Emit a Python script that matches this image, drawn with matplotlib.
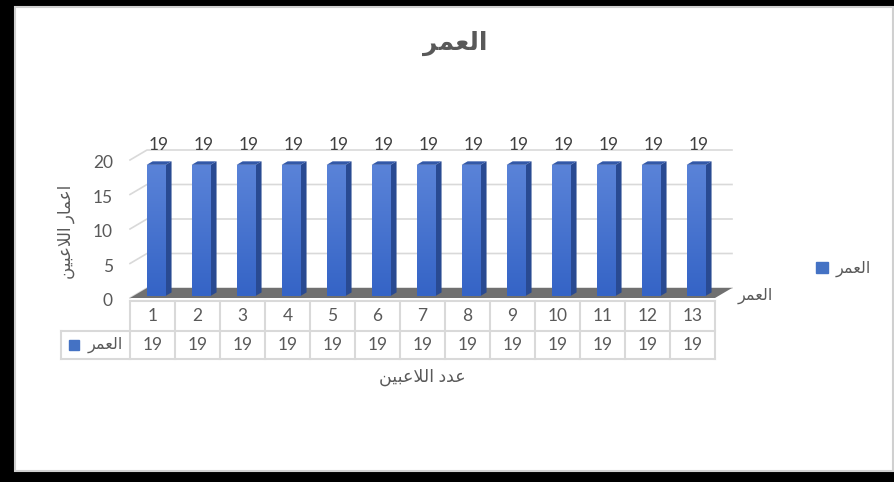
import numpy as np
import matplotlib
matplotlib.use('Agg')
import matplotlib.pyplot as plt
from matplotlib.patches import Rectangle, Polygon, Patch
from matplotlib.colors import LinearSegmentedColormap

plt.rcParams['font.family'] = ['Lato', 'DejaVu Sans']

# données du graphique
joueurs = [1, 2, 3, 4, 5, 6, 7, 8, 9, 10, 11, 12, 13]
ages = [19, 19, 19, 19, 19, 19, 19, 19, 19, 19, 19, 19, 19]
graduations = [0, 5, 10, 15, 20]
titre = 'العمر'
nom_serie = 'العمر'
titre_x = 'عدد اللاعبين'
titre_y = 'اعمار اللاعبين'

# formes contextuelles arabes (isolée, finale, initiale, médiane)
FORMES = {
    'ا': ('\uFE8D', '\uFE8E', None, None),
    'ب': ('\uFE8F', '\uFE90', '\uFE91', '\uFE92'),
    'د': ('\uFEA9', '\uFEAA', None, None),
    'ر': ('\uFEAD', '\uFEAE', None, None),
    'ع': ('\uFEC9', '\uFECA', '\uFECB', '\uFECC'),
    'ل': ('\uFEDD', '\uFEDE', '\uFEDF', '\uFEE0'),
    'م': ('\uFEE1', '\uFEE2', '\uFEE3', '\uFEE4'),
    'ن': ('\uFEE5', '\uFEE6', '\uFEE7', '\uFEE8'),
    'ي': ('\uFEF1', '\uFEF2', '\uFEF3', '\uFEF4'),
}


def joint_suivant(c):
    return c in FORMES and FORMES[c][2] is not None


# matplotlib ne fait pas le shaping : on le fait à la main puis on inverse
def arabe(texte):
    lettres = []
    i = 0
    while i < len(texte):
        if texte[i] == 'ل' and i + 1 < len(texte) and texte[i + 1] == 'ا':
            lettres.append('LA')
            i += 2
        else:
            lettres.append(texte[i])
            i += 1
    res = []
    for k, c in enumerate(lettres):
        prec = lettres[k - 1] if k > 0 else None
        suiv = lettres[k + 1] if k + 1 < len(lettres) else None
        avant = prec is not None and joint_suivant(prec)
        if c == 'LA':
            res.append('\uFEFC' if avant else '\uFEFB')
            continue
        if c not in FORMES:
            res.append(c)
            continue
        apres = joint_suivant(c) and suiv is not None and (suiv in FORMES or suiv == 'LA')
        iso, fin, ini, med = FORMES[c]
        if avant and apres:
            res.append(med)
        elif avant:
            res.append(fin)
        elif apres:
            res.append(ini)
        else:
            res.append(iso)
    return ''.join(reversed(res))


W, H = 895, 482
gris_texte = '#595959'
gris_ligne = '#d9d9d9'
bleu = '#4472c4'


def fx(px):
    return px / W


def fy(py):
    return 1 - py / H


fig = plt.figure(figsize=(W / 100, H / 100), dpi=100)

# cadre noir autour de l'image
fig.patches.append(Rectangle((0, 0), 1, 1, transform=fig.transFigure,
                             facecolor='black', zorder=-10))
fig.patches.append(Rectangle((fx(15), fy(471)), fx(893) - fx(15), fy(7) - fy(471),
                             transform=fig.transFigure, facecolor='white',
                             edgecolor='#d0d0d0', lw=1.5, zorder=-9))

# axe principal = plan avant du graphique 3D
ax = fig.add_axes([fx(130), fy(298), fx(715) - fx(130), fy(160) - fy(298)])
ax.set_xlim(0, len(joueurs))
ax.set_ylim(0, 20)
ax.axis('off')

px_x = 45.0   # pixels par catégorie
px_y = 6.9    # pixels par unité
dx = 17 / px_x   # profondeur du mur du fond
dy = 10 / px_y
n = len(joueurs)

# quadrillage du mur du fond
for v in graduations:
    ax.plot([0, dx, n + dx], [v, v + dy, v + dy], color=gris_ligne, lw=1.2,
            clip_on=False, zorder=1)

# sol
ax.add_patch(Polygon([(0, 0), (n, 0), (n + dx, dy), (dx, dy)], closed=True,
                     facecolor='#707070', edgecolor='none', clip_on=False, zorder=2))

# barres 3D
larg = 0.42
bdx = 6 / px_x
bdy = 3.5 / px_y
base = 0.3
x0 = np.arange(n) + 0.37
barres = ax.bar(x0, ages, width=larg, bottom=base, align='edge', color=bleu,
                edgecolor='none', zorder=4, clip_on=False)
degrade = LinearSegmentedColormap.from_list('deg', ['#3564c6', '#5a83d8'])
for b, x, v in zip(barres, x0, ages):
    im = ax.imshow(np.linspace(0, 1, 50).reshape(-1, 1), cmap=degrade, origin='lower',
                   extent=[x, x + larg, base, base + v], aspect='auto', zorder=4.5)
    im.set_clip_path(b)
    ax.add_patch(Polygon([(x + larg, base), (x + larg + bdx, base + bdy),
                          (x + larg + bdx, base + v + bdy), (x + larg, base + v)],
                         closed=True, facecolor='#294a92', edgecolor='none',
                         clip_on=False, zorder=4))
    ax.add_patch(Polygon([(x, base + v), (x + larg, base + v),
                          (x + larg + bdx, base + v + bdy), (x + bdx, base + v + bdy)],
                         closed=True, facecolor='#3258a8', edgecolor='none',
                         clip_on=False, zorder=4))
    ax.text(x + larg / 2 + bdx / 2, 22.2, str(v), ha='center', va='center',
            fontsize=12.5, color='#404040')
ax.set_xlim(0, n)
ax.set_ylim(0, 20)

# étiquettes de l'axe vertical
for v in graduations:
    ax.text(-0.38, v - 0.45, str(v), ha='right', va='center', fontsize=12.5,
            color=gris_texte)

# tableau de données sous le graphique
y1 = (298 - 301) / px_y
y2 = (298 - 331) / px_y
y3 = (298 - 359) / px_y
xg = (61 - 130) / px_x
kw = dict(color=gris_ligne, lw=1.5, clip_on=False, zorder=1)
ax.plot([0, n], [y1, y1], **kw)
ax.plot([xg, n], [y2, y2], **kw)
ax.plot([xg, n], [y3, y3], **kw)
ax.plot([xg, xg], [y2, y3], **kw)
for k in range(n + 1):
    ax.plot([k, k], [y1, y3], **kw)
for k, (j, v) in enumerate(zip(joueurs, ages)):
    ax.text(k + 0.5, (y1 + y2) / 2, str(j), ha='center', va='center',
            fontsize=12.5, color=gris_texte)
    ax.text(k + 0.5, (y2 + y3) / 2, str(v), ha='center', va='center',
            fontsize=12.5, color=gris_texte)
ax.plot([(74 - 130) / px_x], [(y2 + y3) / 2], marker='s', markersize=7,
        color=bleu, clip_on=False)
ax.text((123 - 130) / px_x, (y2 + y3) / 2, arabe(nom_serie), ha='right',
        va='center', fontsize=11.5, color=gris_texte)

# titres
fig.text(fx(455), fy(43), arabe(titre), ha='center', va='center', fontsize=18,
         fontweight='bold', color=gris_texte)
fig.text(fx(422), fy(377), arabe(titre_x), ha='center', va='center', fontsize=12.5,
         color=gris_texte)
fig.text(fx(66), fy(232), arabe(titre_y), ha='center', va='center', fontsize=12,
         rotation=90, color=gris_texte)
fig.text(fx(738), fy(296), arabe(nom_serie), ha='left', va='center', fontsize=11.5,
         color=gris_texte)

# légende
fig.legend(handles=[Patch(color=bleu)], labels=[arabe(nom_serie)], loc='center left',
           bbox_to_anchor=(fx(802), fy(269)), frameon=False, handlelength=0.7,
           handleheight=0.7, handletextpad=0.5, fontsize=11.5, labelcolor=gris_texte)

fig.savefig('out.png', dpi=100)
